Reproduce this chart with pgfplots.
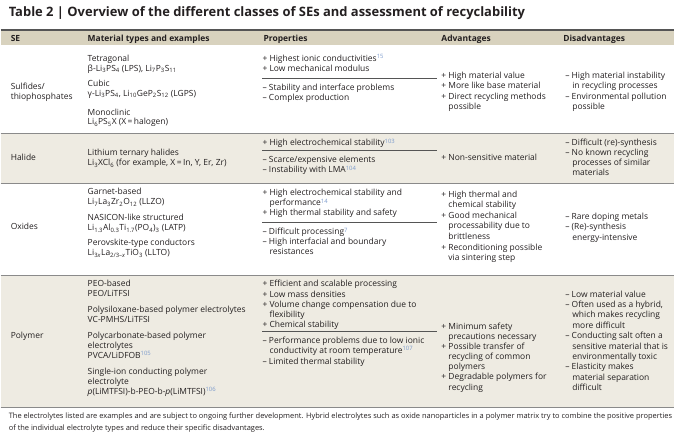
\documentclass[border=0pt]{standalone}
\usepackage{pgfplots}
\pgfplotsset{compat=1.18}
\usepackage{fontspec}
\setmainfont{Open Sans}
\definecolor{txt}{HTML}{231F20}
\definecolor{hdr}{HTML}{D8D2BE}
\definecolor{band}{HTML}{EEEBE2}
\definecolor{rulec}{HTML}{555555}
\definecolor{sepc}{HTML}{8A8A8A}
\definecolor{refc}{HTML}{7B9ACC}
\newcommand\sub[1]{\textsubscript{#1}}
\newcommand\rf[1]{\textsuperscript{\color{refc}#1}}
\newcommand\bodyfont{\fontsize{8.5}{9}\selectfont}
\newcommand\Tx[3]{\node[anchor=base west,inner sep=0pt,font=\bodyfont,text=txt] at (axis cs:#1,#2+3.1) {#3};}
\newcommand\Hd[2]{\node[anchor=base west,inner sep=0pt,font=\bodyfont\bfseries,text=txt] at (axis cs:#1,38+3.1) {#2};}
\newcommand\ind{\phantom{+\ }}
\begin{document}
\begin{tikzpicture}
\begin{axis}[hide axis, scale only axis, width=700bp, height=441bp,
  xmin=0, xmax=700, ymin=0, ymax=441, y dir=reverse, clip=false]
\path (axis cs:0,0) rectangle (axis cs:700,441);
% bands
\fill[hdr] (axis cs:0,30) rectangle (axis cs:674,45);
\fill[band] (axis cs:0,134) rectangle (axis cs:674,183);
\fill[band] (axis cs:0,276) rectangle (axis cs:674,407);
% rules
\draw[rulec, line width=1.1pt] (axis cs:0,30) -- (axis cs:674,30);
\draw[sepc, line width=1.2pt] (axis cs:0,133.5) -- (axis cs:674,133.5);
\draw[sepc, line width=1.2pt] (axis cs:0,183.5) -- (axis cs:674,183.5);
\draw[sepc, line width=1.2pt] (axis cs:0,275.5) -- (axis cs:674,275.5);
\draw[sepc, line width=1.2pt] (axis cs:0,407.5) -- (axis cs:674,407.5);
\draw[rulec, line width=0.6pt] (axis cs:262,78) -- (axis cs:437,78);
\draw[rulec, line width=0.6pt] (axis cs:262,150) -- (axis cs:437,150);
\draw[rulec, line width=0.6pt] (axis cs:262,222) -- (axis cs:437,222);
\draw[rulec, line width=0.6pt] (axis cs:262,332) -- (axis cs:437,332);
% title
\node[anchor=base west,inner sep=0pt,font=\fontsize{13}{14}\selectfont\bfseries,text=txt] at (axis cs:8,17) {Table 2 | Overview of the different classes of SEs and assessment of recyclability};
% headers
\Hd{10}{SE}
\Hd{87}{Material types and examples}
\Hd{263}{Properties}
\Hd{441}{Advantages}
\Hd{563}{Disadvantages}
% SE column
\Tx{10}{86}{Sulfides/}
\Tx{10}{96}{thiophosphates}
\Tx{10}{158}{Halide}
\Tx{10}{227}{Oxides}
\Tx{10}{336}{Polymer}
% material column
\Tx{87}{58}{Tetragonal}
\Tx{87}{68}{β-Li\sub{3}PS\sub{4} (LPS), Li\sub{7}P\sub{3}S\sub{11}}
\Tx{87}{83}{Cubic}
\Tx{87}{93}{γ-Li\sub{3}PS\sub{4}, Li\sub{10}GeP\sub{2}S\sub{12} (LGPS)}
\Tx{87}{112}{Monoclinic}
\Tx{87}{122}{Li\sub{6}PS\sub{5}X (X\,=\,halogen)}
\Tx{87}{153}{Lithium ternary halides}
\Tx{87}{163}{Li\sub{3}XCl\sub{6} (for example, X\,=\,In, Y, Er, Zr)}
\Tx{87}{192}{Garnet-based}
\Tx{87}{202}{Li\sub{7}La\sub{3}Zr\sub{2}O\sub{12} (LLZO)}
\Tx{87}{218}{NASICON-like structured}
\Tx{87}{228}{Li\sub{1.3}Al\sub{0.3}Ti\sub{1.7}(PO\sub{4})\sub{3} (LATP)}
\Tx{87}{243}{Perovskite-type conductors}
\Tx{87}{253}{Li\sub{3\textit{x}}La\sub{2/3--\textit{x}}TiO\sub{3} (LLTO)}
\Tx{87}{284}{PEO-based}
\Tx{87}{294}{PEO/LiTFSI}
\Tx{87}{310}{Polysiloxane-based polymer electrolytes}
\Tx{87}{320}{VC-PMHS/LiTFSI}
\Tx{87}{336}{Polycarbonate-based polymer}
\Tx{87}{346}{electrolytes}
\Tx{87}{356}{PVCA/LiDFOB\rf{105}}
\Tx{87}{372}{Single-ion conducting polymer}
\Tx{87}{382}{electrolyte}
\Tx{87}{392}{\textit{p}(LiMTFSI)-b-PEO-b-\textit{p}(LiMTFSI)\rf{106}}
% properties
\Tx{262}{58}{+ Highest ionic conductivities\rf{15}}
\Tx{262}{68}{+ Low mechanical modulus}
\Tx{262}{87}{– Stability and interface problems}
\Tx{262}{97}{– Complex production}
\Tx{262}{143}{+ High electrochemical stability\rf{103}}
\Tx{262}{160}{– Scarce/expensive elements}
\Tx{262}{170}{– Instability with LMA\rf{104}}
\Tx{262}{193}{+ High electrochemical stability and}
\Tx{262}{203}{\ind performance\rf{14}}
\Tx{262}{213}{+ High thermal stability and safety}
\Tx{262}{232}{– Difficult processing\rf{7}}
\Tx{262}{242}{– High interfacial and boundary}
\Tx{262}{252}{\ind resistances}
\Tx{262}{284}{+ Efficient and scalable processing}
\Tx{262}{295}{+ Low mass densities}
\Tx{262}{305}{+ Volume change compensation due to}
\Tx{262}{315}{\ind flexibility}
\Tx{262}{325}{+ Chemical stability}
\Tx{262}{341}{– Performance problems due to low ionic}
\Tx{262}{351}{\ind conductivity at room temperature\rf{107}}
\Tx{262}{362}{– Limited thermal stability}
% advantages
\Tx{441}{75}{+ High material value}
\Tx{441}{85}{+ More like base material}
\Tx{441}{96}{+ Direct recycling methods}
\Tx{441}{106}{\ind possible}
\Tx{441}{158}{+ Non-sensitive material}
\Tx{441}{195}{+ High thermal and}
\Tx{441}{205}{\ind chemical stability}
\Tx{441}{216}{+ Good mechanical}
\Tx{441}{226}{\ind processability due to}
\Tx{441}{237}{\ind brittleness}
\Tx{441}{248}{+ Reconditioning possible}
\Tx{441}{258}{\ind via sintering step}
\Tx{441}{327}{+ Minimum safety}
\Tx{441}{337}{\ind precautions necessary}
\Tx{441}{347}{+ Possible transfer of}
\Tx{441}{357}{\ind recycling of common}
\Tx{441}{367}{\ind polymers}
\Tx{441}{377}{+ Degradable polymers for}
\Tx{441}{388}{\ind recycling}
% disadvantages
\Tx{565}{75}{– High material instability}
\Tx{565}{85}{\ind in recycling processes}
\Tx{565}{96}{– Environmental pollution}
\Tx{565}{106}{\ind possible}
\Tx{565}{143}{– Difficult (re)-synthesis}
\Tx{565}{153}{– No known recycling}
\Tx{565}{163}{\ind processes of similar}
\Tx{565}{173}{\ind materials}
\Tx{565}{217}{– Rare doping metals}
\Tx{565}{227}{– (Re)-synthesis}
\Tx{565}{238}{\ind energy-intensive}
\Tx{565}{295}{– Low material value}
\Tx{565}{305}{– Often used as a hybrid,}
\Tx{565}{315}{\ind which makes recycling}
\Tx{565}{326}{\ind more difficult}
\Tx{565}{336}{– Conducting salt often a}
\Tx{565}{347}{\ind sensitive material that is}
\Tx{565}{357}{\ind environmentally toxic}
\Tx{565}{367}{– Elasticity makes}
\Tx{565}{378}{\ind material separation}
\Tx{565}{388}{\ind difficult}
% footnote
\node[anchor=base west,inner sep=0pt,font=\fontsize{7.5}{8}\selectfont,text=txt] at (axis cs:8,418.5) {The electrolytes listed are examples and are subject to ongoing further development. Hybrid electrolytes such as oxide nanoparticles in a polymer matrix try to combine the positive properties};
\node[anchor=base west,inner sep=0pt,font=\fontsize{7.5}{8}\selectfont,text=txt] at (axis cs:8,430.5) {of the individual electrolyte types and reduce their specific disadvantages.};
\end{axis}
\end{tikzpicture}
\end{document}
